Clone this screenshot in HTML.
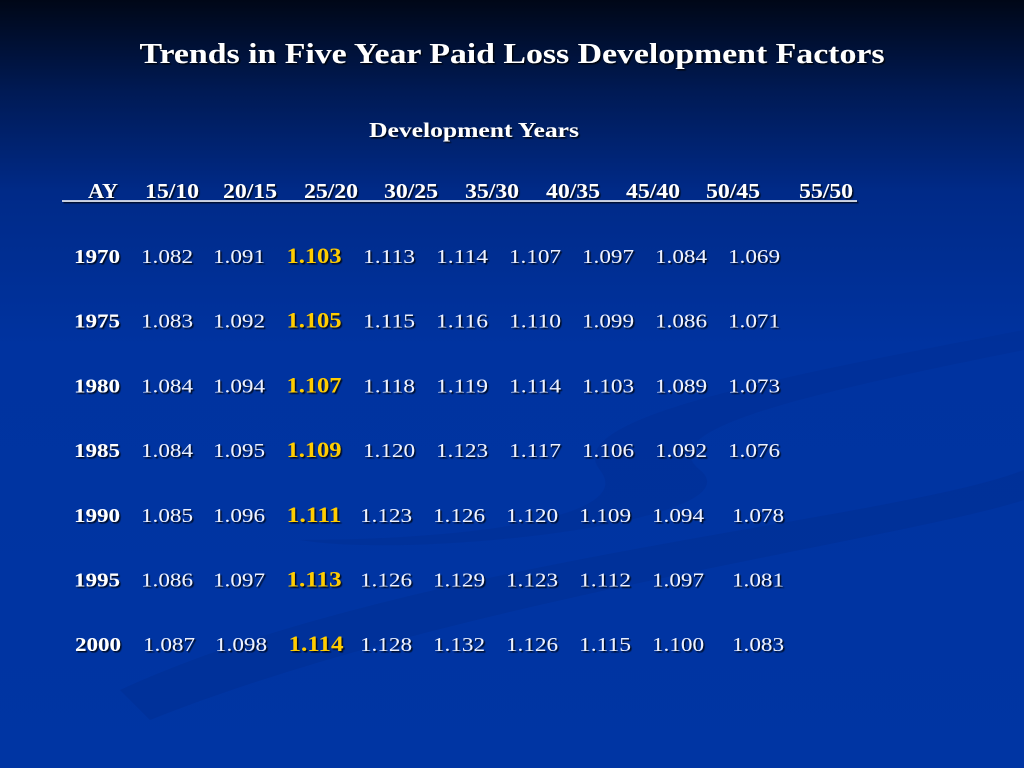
<!DOCTYPE html>
<html><head><meta charset="utf-8"><style>
html,body{margin:0;padding:0;width:1024px;height:768px;overflow:hidden}
body{background:linear-gradient(180deg,#000717 0%,#001a55 12%,#002a88 25%,#0033a0 45%,#0035a3 100%)}
svg{position:absolute;left:0;top:0}
text{font-family:"Liberation Serif",serif}
</style></head><body>
<svg id="s" width="1024" height="768">
<defs><filter id="sh"><feDropShadow dx="1.5" dy="1.5" stdDeviation="0.5" flood-color="#000" flood-opacity="0.8"/></filter></defs>
<path d="M120,690 C400,560 900,520 1024,470 L1024,500 C900,540 450,600 150,720 Z" fill="#002e92" opacity="0.5"/>
<path d="M600,470 C560,420 760,380 1024,330 L1024,350 C800,395 650,430 700,470 C760,520 420,560 300,540 C450,540 640,520 600,470 Z" fill="#002e92" opacity="0.4"/>
<g filter="url(#sh)" id="g" fill="#fff">
<text x="512" y="63" text-anchor="middle" font-size="29" font-weight="bold" fill="#fff" textLength="745" lengthAdjust="spacingAndGlyphs">Trends in Five Year Paid Loss Development Factors</text>
<text x="474" y="137" text-anchor="middle" font-size="21" font-weight="bold" fill="#fff" textLength="210" lengthAdjust="spacingAndGlyphs">Development Years</text>
<line x1="62" y1="201" x2="857" y2="201" stroke="#fff" stroke-width="1.5"/>
</g>
</svg>
<script>
const headers=["AY","15/10","20/15","25/20","30/25","35/30","40/35","45/40","50/45","55/50"];
const years=["1970","1975","1980","1985","1990","1995","2000"];
const v1510=[1.082,1.083,1.084,1.084,1.085,1.086,1.087];
const v2015=[1.091,1.092,1.094,1.095,1.096,1.097,1.098];
const v2520=[1.103,1.105,1.107,1.109,1.111,1.113,1.114];
const v3025=[1.113,1.115,1.118,1.120,1.123,1.126,1.128];
const v3530=[1.114,1.116,1.119,1.123,1.126,1.129,1.132];
const v4035=[1.107,1.110,1.114,1.117,1.120,1.123,1.126];
const v4540=[1.097,1.099,1.103,1.106,1.109,1.112,1.115];
const v5045=[1.084,1.086,1.089,1.092,1.094,1.097,1.100];
const v5550=[1.069,1.071,1.073,1.076,1.078,1.081,1.083];
const series=[v1510,v2015,v2520,v3025,v3530,v4035,v4540,v5045,v5550];
const g=document.getElementById('g');const NS="http://www.w3.org/2000/svg";
const hx=[103,172,250,331,411,492,573,653,733,826];
const cx=[97,167,239,314,389,462,535,608,681,754];
function rowY(i){return 263+i*64.7;}
function t(x,y,s,size,bold,fill,w){const e=document.createElementNS(NS,'text');e.setAttribute('x',x);e.setAttribute('y',y);e.setAttribute('text-anchor','middle');e.setAttribute('font-size',size);if(bold)e.setAttribute('font-weight','bold');e.style.fill=fill||'#fff';if(w){e.setAttribute('textLength',w);e.setAttribute('lengthAdjust','spacingAndGlyphs');}e.textContent=s;g.appendChild(e);return e;}
headers.forEach((h,i)=>{const e=t(hx[i],198,h,21,true,'#fff',i?54:30);

});
years.forEach((y,r)=>{const yy=rowY(r);
const e=t(cx[0]+(r==6?1:0),yy,y,20,true,'#fff',46);


series.forEach((s,c)=>{const hl=c===2;const v=s[r].toFixed(3);
let dx=0;if(r>=4){if(c>=3&&c<=7)dx=-3;if(c===8)dx=4;}if(r===6&&c<3)dx+=2;
const el=t(cx[c+1]+dx,yy,v,hl?22:20,hl,hl?'#ffcc00':'#eef2ff',hl?55:52);

});});
</script>
</body></html>
